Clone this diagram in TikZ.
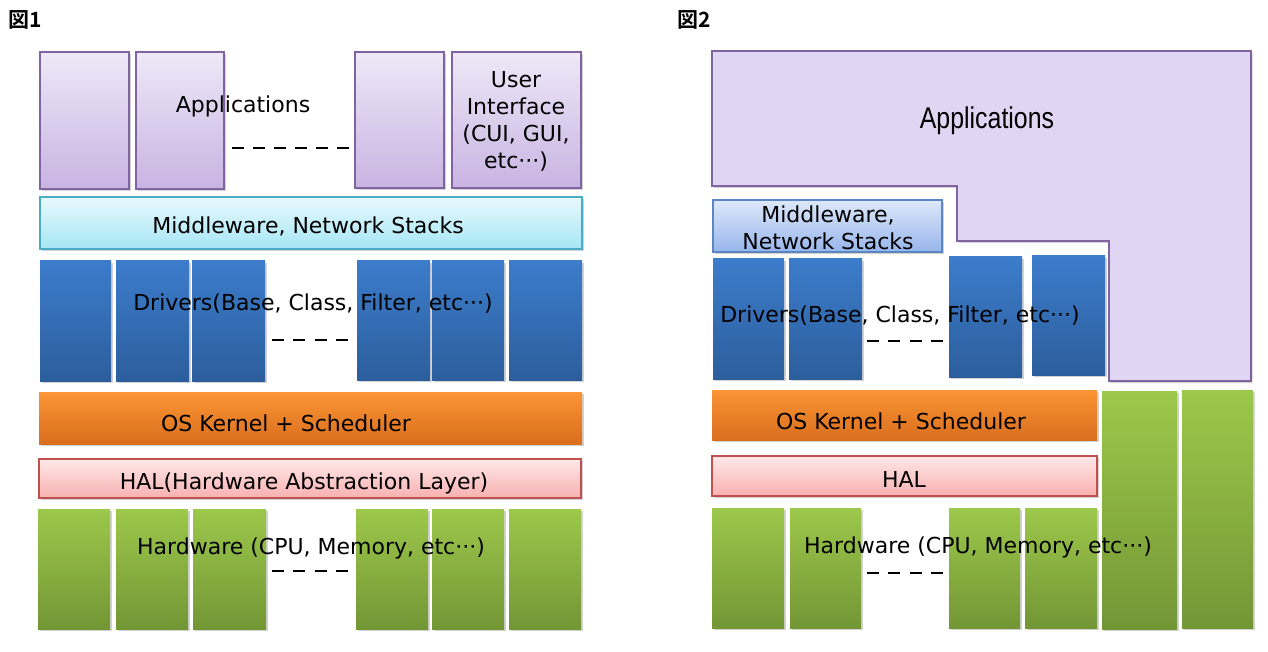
\documentclass[tikz,border=0pt]{standalone}
\usepackage{fontspec}
\setmainfont{DejaVu Sans}
\newfontfamily\cjkb{Noto Sans CJK JP Bold}
\newfontfamily\narrowf{Liberation Sans}
\usetikzlibrary{shadows}
\definecolor{appB}{HTML}{8064A2}
\definecolor{appT}{HTML}{EEE8F7}
\definecolor{appBo}{HTML}{C8B4E2}
\definecolor{appF}{HTML}{E0D5F2}
\definecolor{mwB}{HTML}{4BACC6}
\definecolor{mwT}{HTML}{E8F9FD}
\definecolor{mwBo}{HTML}{A6E6F5}
\definecolor{mw2B}{HTML}{5A86C4}
\definecolor{mw2T}{HTML}{DDE8FA}
\definecolor{mw2Bo}{HTML}{98B6EC}
\definecolor{drT}{HTML}{3C7CCB}
\definecolor{drBo}{HTML}{2C5E9C}
\definecolor{osT}{HTML}{FB9535}
\definecolor{osBo}{HTML}{D96E1D}
\definecolor{halB}{HTML}{C0504D}
\definecolor{halT}{HTML}{FFE8E8}
\definecolor{halBo}{HTML}{F8B0B0}
\definecolor{hwT}{HTML}{9CC84B}
\definecolor{hwBo}{HTML}{739635}
\tikzset{
  base/.style={inner sep=0pt, outer sep=0pt, anchor=north west,
    drop shadow={opacity=0.35, shadow xshift=1.5pt, shadow yshift=-2pt}},
  appbox/.style={base, draw=appB, line width=1.3pt, top color=appT, bottom color=appBo},
  mwbox/.style={base, draw=mwB, line width=1.3pt, top color=mwT, bottom color=mwBo},
  mwboxb/.style={base, draw=mw2B, line width=1.3pt, top color=mw2T, bottom color=mw2Bo},
  drvbox/.style={base, top color=drT, bottom color=drBo},
  osbox/.style={base, top color=osT, bottom color=osBo},
  halbox/.style={base, draw=halB, line width=1.3pt, top color=halT, bottom color=halBo},
  hwbox/.style={base, top color=hwT, bottom color=hwBo},
  lbl/.style={inner sep=0pt, font=\fontsize{22}{27}\selectfont, align=center, text=black},
  ttl/.style={inner sep=0pt, font=\cjkb\fontsize{21}{24}\selectfont, anchor=west},
  dots/.style={line width=2.6pt, black}
}
\newcommand\bx[6]{\pgfmathsetmacro\bw{#4-#2}\pgfmathsetmacro\bh{#5-#3}%
  \node[#1, minimum width=\bw pt, minimum height=\bh pt] (#6) at (#2,#3) {};}
\begin{document}
\begin{tikzpicture}[x=1pt,y=-1pt]
\useasboundingbox[fill=white] (0,0) rectangle (1268,652);
% ---------- Figure 1 ----------
\node[ttl] (t1) at (8,20) {図1};
\bx{appbox}{40}{52}{129}{189}{a1}
\bx{appbox}{136}{52}{224}{189}{a2}
\bx{appbox}{355}{52}{444}{188}{a3}
\bx{appbox}{452}{52}{581}{188}{a4}
\node[lbl] (appl1) at (243,106) {Applications};
\node[lbl] (ui) at (516,121) {User\\Interface\\(CUI, GUI,\\etc\textperiodcentered\textperiodcentered\textperiodcentered)};
\coordinate (ad1) at (232,148); \coordinate (ad2) at (349,148);
\draw[dots, dash pattern=on 12pt off 9pt] (ad1) -- (ad2);

\bx{mwbox}{40}{197}{582}{249}{mw1}
\node[lbl] (mwl1) at (308,226) {Middleware, Network Stacks};

\bx{drvbox}{40}{261}{111}{381}{d1}
\bx{drvbox}{116}{261}{189}{381}{d2}
\bx{drvbox}{192}{261}{265}{381}{d3}
\bx{drvbox}{357}{261}{430}{380}{d4}
\bx{drvbox}{432}{261}{504}{380}{d5}
\bx{drvbox}{509}{261}{582}{380}{d6}
\node[lbl] (drl1) at (313,304) {Drivers(Base, Class, Filter, etc\textperiodcentered\textperiodcentered\textperiodcentered)};
\coordinate (dd1) at (272,340); \coordinate (dd2) at (348,340);
\draw[dots, dash pattern=on 12pt off 9.3pt] (dd1) -- (dd2);

\bx{osbox}{39}{392}{582}{444}{os1}
\node[lbl] (osl1) at (286,423) {OS Kernel + Scheduler};

\bx{halbox}{39}{459}{581}{498}{hal1}
\node[lbl] (hall1) at (304,483) {HAL(Hardware Abstraction Layer)};

\bx{hwbox}{38}{509}{110}{629}{h1}
\bx{hwbox}{116}{509}{188}{629}{h2}
\bx{hwbox}{193}{509}{266}{629}{h3}
\bx{hwbox}{356}{509}{428}{629}{h4}
\bx{hwbox}{432}{509}{504}{629}{h5}
\bx{hwbox}{509}{509}{581}{629}{h6}
\node[lbl] (hwl1) at (311,548) {Hardware (CPU, Memory, etc\textperiodcentered\textperiodcentered\textperiodcentered)};
\coordinate (hd1) at (272,571); \coordinate (hd2) at (348,571);
\draw[dots, dash pattern=on 12pt off 9.3pt] (hd1) -- (hd2);

% ---------- Figure 2 ----------
\node[ttl] (t2) at (677,20) {図2};
\draw[draw=appB, line width=1.5pt, fill=appF,
  drop shadow={opacity=0.35, shadow xshift=1.5pt, shadow yshift=-2pt}]
  (712,51) -- (1251,51) -- (1251,381) -- (1109,381) -- (1109,241)
  -- (957,241) -- (957,186) -- (712,186) -- cycle;
\node[inner sep=0pt] (appl2) at (987,121) {\scalebox{0.83}[1]{\narrowf\fontsize{30}{34}\selectfont Applications}};

\bx{mwboxb}{713}{200}{942}{252}{mw2}
\node[lbl] (mwl2) at (828,228) {Middleware,\\Network Stacks};

\bx{drvbox}{713}{259}{784}{379}{e1}
\bx{drvbox}{789}{259}{862}{379}{e2}
\bx{drvbox}{949}{257}{1022}{377}{e3}
\bx{drvbox}{1032}{256}{1105}{375}{e4}
\node[lbl] (drl2) at (900,316) {Drivers(Base, Class, Filter, etc\textperiodcentered\textperiodcentered\textperiodcentered)};
\coordinate (ed1) at (867,341); \coordinate (ed2) at (943,341);
\draw[dots, dash pattern=on 12pt off 9.3pt] (ed1) -- (ed2);

\bx{osbox}{712}{390}{1097}{440}{os2}
\node[lbl] (osl2) at (901,421) {OS Kernel + Scheduler};

\bx{halbox}{712}{456}{1097}{496}{hal2}
\node[lbl] (hall2) at (904,479) {HAL};

\bx{hwbox}{1102}{391}{1177}{629}{g1}
\bx{hwbox}{1182}{390}{1253}{628}{g2}
\bx{hwbox}{712}{508}{784}{628}{k1}
\bx{hwbox}{790}{508}{861}{628}{k2}
\bx{hwbox}{949}{508}{1020}{628}{k3}
\bx{hwbox}{1025}{508}{1097}{628}{k4}
\node[lbl] (hwl2) at (978,547) {Hardware (CPU, Memory, etc\textperiodcentered\textperiodcentered\textperiodcentered)};
\coordinate (kd1) at (867,573); \coordinate (kd2) at (943,573);
\draw[dots, dash pattern=on 12pt off 9.3pt] (kd1) -- (kd2);
\end{tikzpicture}
\end{document}
